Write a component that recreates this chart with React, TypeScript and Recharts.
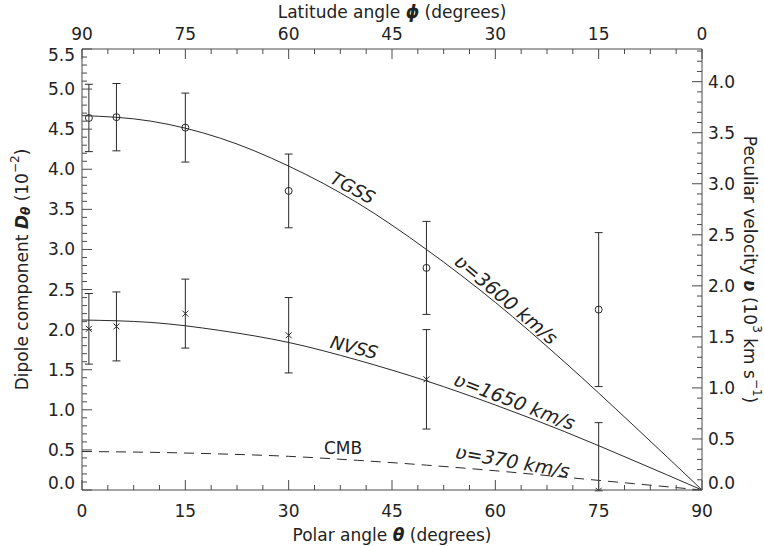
import React from "react";
import { ComposedChart, Line, Scatter, ErrorBar, XAxis, YAxis, ReferenceDot } from "recharts";

// model curves D cos(theta) (10^-2)
const thetaGrid = [0, 10, 20, 30, 40, 50, 60, 70, 80, 90];
const tgssModel = [4.67, 4.6, 4.39, 4.04, 3.58, 3.0, 2.34, 1.6, 0.81, 0];
const nvssModel = [2.12, 2.09, 1.99, 1.84, 1.62, 1.36, 1.06, 0.73, 0.37, 0];
const cmbModel = [0.48, 0.47, 0.45, 0.42, 0.37, 0.31, 0.24, 0.16, 0.08, 0];

// measured dipole components (10^-2)
const pointTheta = [1, 5, 15, 30, 50, 75];
const tgssD = [4.64, 4.65, 4.52, 3.73, 2.77, 2.25];
const tgssErr = [0.42, 0.42, 0.43, 0.46, 0.58, 0.96];
const nvssD = [2.01, 2.04, 2.2, 1.93, 1.38, -0.01];
const nvssErr = [0.44, 0.43, 0.43, 0.47, 0.62, 0.85];

const Y_MIN = 0;

const bottomTicks = Array.from({ length: 25 }, (_, i) => i * 3.75);
const leftTicks = Array.from({ length: 56 }, (_, i) => i / 10);
const rightTicks = Array.from({ length: 44 }, (_, i) => i / 10);

const tgssLine = thetaGrid.map((theta, i) => ({ theta, m: tgssModel[i] }));
const nvssLine = thetaGrid.map((theta, i) => ({ theta, m: nvssModel[i] }));
const cmbLine = thetaGrid.map((theta, i) => ({ theta, m: cmbModel[i] }));
// error bars stop at the frame, like the original plot
const toPts = (d: number[], e: number[]) =>
  pointTheta.map((theta, i) => ({
    theta,
    d: d[i],
    err: [Math.max(0, Math.min(e[i], d[i] - Y_MIN)), e[i]],
  }));
const tgssPts = toPts(tgssD, tgssErr);
const nvssPts = toPts(nvssD, nvssErr);

const INK = "#2a2a2a";
const AXIS = "#4a4a4a";
const FONT = "'DejaVu Sans', sans-serif";
const FS = 17;
const PLOT_TOP = 49;
const PLOT_BOTTOM = 490;

const isMajor = (v: number, step: number) => Math.abs(v / step - Math.round(v / step)) < 1e-6;
// end labels are pulled inside the frame
const clampY = (y: number) => Math.min(Math.max(y, PLOT_TOP + 6), PLOT_BOTTOM - 7);

const textStyle = { fontFamily: FONT, fontSize: FS, fill: "#222" };

function BottomTick({ x, y, payload }: any) {
  const v = payload.value;
  const major = isMajor(v, 15);
  return (
    <g>
      <line x1={x} x2={x} y1={y} y2={y - (major ? 10 : 5)} stroke={AXIS} />
      {major && (
        <text x={x} y={y + 21} textAnchor="middle" dominantBaseline="central" style={textStyle}>
          {v}
        </text>
      )}
    </g>
  );
}

function TopTick({ x, y, payload }: any) {
  const v = payload.value;
  const major = isMajor(v, 15);
  return (
    <g>
      <line x1={x} x2={x} y1={y} y2={y + (major ? 10 : 5)} stroke={AXIS} />
      {major && (
        <text x={x} y={y - 15} textAnchor="middle" dominantBaseline="central" style={textStyle}>
          {90 - v}
        </text>
      )}
    </g>
  );
}

function LeftTick({ x, y, payload }: any) {
  const v = payload.value;
  const major = isMajor(v, 0.5);
  return (
    <g>
      <line x1={x} x2={x + (major ? 10 : 5)} y1={y} y2={y} stroke={AXIS} />
      {major && (
        <text x={x - 7} y={clampY(y)} textAnchor="end" dominantBaseline="central" style={textStyle}>
          {v.toFixed(1)}
        </text>
      )}
    </g>
  );
}

function RightTick({ x, y, payload }: any) {
  const v = payload.value;
  const major = isMajor(v, 0.5);
  return (
    <g>
      <line x1={x} x2={x - (major ? 10 : 5)} y1={y} y2={y} stroke={AXIS} />
      {major && (
        <text x={x + 6} y={clampY(y)} textAnchor="start" dominantBaseline="central" style={textStyle}>
          {v.toFixed(1)}
        </text>
      )}
    </g>
  );
}

const circleShape = (p: any) => (
  <circle cx={p.cx} cy={p.cy} r={3.5} fill="none" stroke={INK} strokeWidth={1} />
);
const crossShape = (p: any) => (
  <g stroke={INK} strokeWidth={1}>
    <line x1={p.cx - 3} y1={p.cy - 3} x2={p.cx + 3} y2={p.cy + 3} />
    <line x1={p.cx - 3} y1={p.cy + 3} x2={p.cx + 3} y2={p.cy - 3} />
  </g>
);

function curveLabel(content: React.ReactNode, angle: number, italic = true, size = 19) {
  return (p: any) => {
    const vb = p.viewBox || {};
    const cx = vb.x + (vb.width || 0) / 2;
    const cy = vb.y + (vb.height || 0) / 2;
    return (
      <text
        x={cx}
        y={cy}
        textAnchor="middle"
        dominantBaseline="central"
        transform={`rotate(${angle} ${cx} ${cy})`}
        style={{ ...textStyle, fontSize: size, fontStyle: italic ? "italic" : "normal" }}
      >
        {content}
      </text>
    );
  };
}

const vGlyph = <tspan fontStyle="italic">ʋ</tspan>;
const vBold = <tspan fontStyle="italic" fontWeight="bold">ʋ</tspan>;

export default function App() {
  return (
    <div style={{ position: "absolute", left: 0, top: 0, background: "#fff" }}>
      <ComposedChart width={764} height={546} margin={{ top: 0, right: 0, bottom: 0, left: 0 }}>
        <XAxis
          xAxisId="bottom"
          type="number"
          dataKey="theta"
          domain={[0, 90]}
          allowDataOverflow
          ticks={bottomTicks}
          interval={0}
          height={56}
          tickSize={0}
          tickMargin={0}
          tickLine={false}
          axisLine={{ stroke: AXIS }}
          tick={<BottomTick />}
          label={(p: any) => {
            const vb = p.viewBox;
            return (
              <text x={vb.x + vb.width / 2} y={vb.y + 45} textAnchor="middle" dominantBaseline="central" style={textStyle}>
                Polar angle <tspan fontStyle="italic" fontWeight="bold">θ</tspan> (degrees)
              </text>
            );
          }}
        />
        <XAxis
          xAxisId="top"
          orientation="top"
          type="number"
          dataKey="theta"
          domain={[0, 90]}
          allowDataOverflow
          ticks={bottomTicks}
          interval={0}
          height={PLOT_TOP}
          tickSize={0}
          tickMargin={0}
          tickLine={false}
          axisLine={{ stroke: AXIS }}
          tick={<TopTick />}
          label={(p: any) => {
            const vb = p.viewBox;
            return (
              <text x={vb.x + vb.width / 2} y={12} textAnchor="middle" dominantBaseline="central" style={textStyle}>
                Latitude angle <tspan fontStyle="italic" fontWeight="bold">ϕ</tspan> (degrees)
              </text>
            );
          }}
        />
        <YAxis
          yAxisId="left"
          type="number"
          dataKey="d"
          domain={[Y_MIN, 5.5]}
          allowDataOverflow
          ticks={leftTicks}
          interval={0}
          width={82}
          tickSize={0}
          tickMargin={0}
          tickLine={false}
          axisLine={{ stroke: AXIS }}
          tick={<LeftTick />}
          label={(p: any) => {
            const vb = p.viewBox;
            const cx = 22;
            const cy = vb.y + vb.height / 2;
            return (
              <text x={cx} y={cy} textAnchor="middle" dominantBaseline="central" transform={`rotate(-90 ${cx} ${cy})`} style={textStyle}>
                Dipole component <tspan fontStyle="italic" fontWeight="bold">D</tspan>
                <tspan fontStyle="italic" fontWeight="bold" fontSize={12} dy={4}>θ</tspan>
                <tspan dy={-4}> (10</tspan>
                <tspan fontSize={12} dy={-7}>−2</tspan>
                <tspan dy={7}>)</tspan>
              </text>
            );
          }}
        />
        <YAxis
          yAxisId="right"
          orientation="right"
          type="number"
          domain={[0, 4.32]}
          allowDataOverflow
          ticks={rightTicks}
          interval={0}
          width={62}
          tickSize={0}
          tickMargin={0}
          tickLine={false}
          axisLine={{ stroke: AXIS }}
          tick={<RightTick />}
          label={(p: any) => {
            const vb = p.viewBox;
            const cx = 750;
            const cy = vb.y + vb.height / 2;
            return (
              <text x={cx} y={cy} textAnchor="middle" dominantBaseline="central" transform={`rotate(90 ${cx} ${cy})`} style={textStyle}>
                Peculiar velocity {vBold} (10
                <tspan fontSize={12} dy={-7}>3</tspan>
                <tspan dy={7}> km s</tspan>
                <tspan fontSize={12} dy={-7}>−1</tspan>
                <tspan dy={7}>)</tspan>
              </text>
            );
          }}
        />

        <Line data={tgssLine} dataKey="m" xAxisId="bottom" yAxisId="left" type="monotone" dot={false} stroke={INK} strokeWidth={1} isAnimationActive={false} />
        <Line data={nvssLine} dataKey="m" xAxisId="bottom" yAxisId="left" type="monotone" dot={false} stroke={INK} strokeWidth={1} isAnimationActive={false} />
        <Line data={cmbLine} dataKey="m" xAxisId="bottom" yAxisId="left" type="monotone" dot={false} stroke={INK} strokeWidth={1} strokeDasharray="10 7" isAnimationActive={false} />

        <Scatter data={tgssPts} dataKey="d" xAxisId="bottom" yAxisId="left" shape={circleShape} isAnimationActive={false}>
          <ErrorBar dataKey="err" direction="y" width={4} stroke={INK} strokeWidth={1} />
        </Scatter>
        <Scatter data={nvssPts} dataKey="d" xAxisId="bottom" yAxisId="left" shape={crossShape} isAnimationActive={false}>
          <ErrorBar dataKey="err" direction="y" width={4} stroke={INK} strokeWidth={1} />
        </Scatter>

        <ReferenceDot xAxisId="bottom" yAxisId="left" x={39.3} y={3.77} r={0} fill="none" stroke="none" label={curveLabel("TGSS", 28, true, 18)} />
        <ReferenceDot xAxisId="bottom" yAxisId="left" x={61.6} y={2.38} r={0} fill="none" stroke="none" label={curveLabel(<>{vGlyph}=3600 km/s</>, 40)} />
        <ReferenceDot xAxisId="bottom" yAxisId="left" x={39.5} y={1.78} r={0} fill="none" stroke="none" label={curveLabel("NVSS", 14, true, 18)} />
        <ReferenceDot xAxisId="bottom" yAxisId="left" x={62.8} y={1.11} r={0} fill="none" stroke="none" label={curveLabel(<>{vGlyph}=1650 km/s</>, 21)} />
        <ReferenceDot xAxisId="bottom" yAxisId="left" x={37.9} y={0.52} r={0} fill="none" stroke="none" label={curveLabel("CMB", 0, false, 17)} />
        <ReferenceDot xAxisId="bottom" yAxisId="left" x={62.5} y={0.36} r={0} fill="none" stroke="none" label={curveLabel(<>{vGlyph}=370 km/s</>, 10)} />
      </ComposedChart>
    </div>
  );
}
